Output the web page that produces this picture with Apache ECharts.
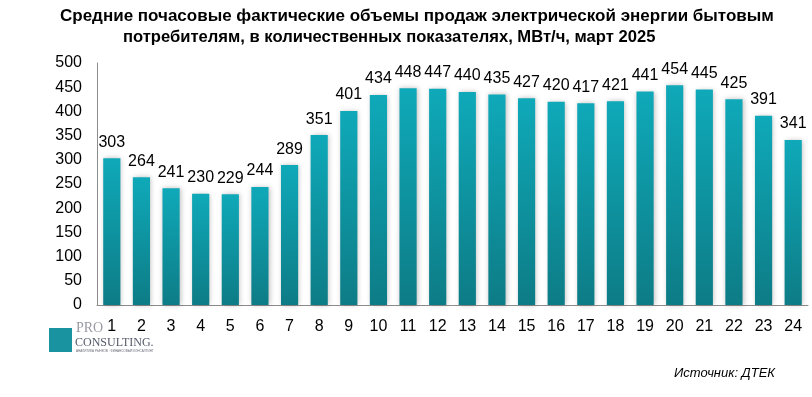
<!DOCTYPE html>
<html><head><meta charset="utf-8">
<script src="https://cdn.jsdelivr.net/npm/echarts@6/dist/echarts.min.js"></script>
<style>html,body{margin:0;padding:0;background:#fff}#c{width:812px;height:397px}</style>
</head><body><div id="c"></div>
<script>
const categories = ['1','2','3','4','5','6','7','8','9','10','11','12','13','14','15','16','17','18','19','20','21','22','23','24'];
const values = [303,264,241,230,229,244,289,351,401,434,448,447,440,435,427,420,417,421,441,454,445,425,391,341];
const titleLine1 = 'Средние почасовые фактические объемы продаж электрической энергии бытовым';
const titleLine2 = 'потребителям, в количественных показателях, МВт/ч, март 2025';
const sourceText = 'Источник: ДТЕК';

const chart = echarts.init(document.getElementById('c'), null, {renderer: 'canvas'});
const font = '"Liberation Sans", Arial, sans-serif';
chart.setOption({
  animation: false,
  grid: {left: 97, right: 4, top: 63, bottom: 92, containLabel: false},
  xAxis: {
    type: 'category', data: categories,
    axisLine: {lineStyle: {color: '#8c8c8c', width: 1}},
    axisTick: {show: false},
    axisLabel: {color: '#000', fontSize: 16, fontFamily: font, margin: 14}
  },
  yAxis: {
    type: 'value', min: 0, max: 500, interval: 50,
    axisLine: {show: true, lineStyle: {color: '#8c8c8c', width: 1}},
    axisTick: {show: false},
    splitLine: {show: false},
    axisLabel: {color: '#000', fontSize: 16, fontFamily: font, margin: 15}
  },
  series: [{
    type: 'bar', data: values, barWidth: '58%',
    itemStyle: {
      color: new echarts.graphic.LinearGradient(0, 0, 0, 1, [
        {offset: 0, color: '#0fa9b9'},
        {offset: 1, color: '#0d7c86'}
      ]),
      shadowBlur: 5, shadowColor: 'rgba(0,0,0,0.25)', shadowOffsetX: 1
    },
    label: {show: true, position: 'top', distance: 8, color: '#000', fontSize: 16, fontFamily: font}
  }],
  graphic: [
    {type: 'text', left: 60, top: 8, style: {text: titleLine1, fill: '#000', font: 'bold 17px ' + font}},
    {type: 'text', left: 123, top: 29, style: {text: titleLine2, fill: '#000', font: 'bold 16.6px ' + font}},
    {type: 'text', left: 674, top: 367, style: {text: sourceText, fill: '#000', font: 'italic 13px ' + font}},
    {type: 'rect', left: 49, top: 328, shape: {width: 23, height: 24}, style: {fill: '#1a93a0'}},
    {type: 'text', left: 76, top: 321, style: {text: 'PRO', fill: '#9a9aa6', font: '14px "Liberation Serif", serif'}},
    {type: 'text', left: 75, top: 337, style: {text: 'CONSULTING.', fill: '#555b6b', font: '12px "Liberation Serif", serif'}},
    {type: 'text', left: 76, top: 350, style: {text: 'АНАЛИТИКА РЫНКОВ · ФИНАНСОВЫЙ КОНСАЛТИНГ', fill: '#6a6a7a', font: '3px sans-serif'}}
  ]
});
</script></body></html>
